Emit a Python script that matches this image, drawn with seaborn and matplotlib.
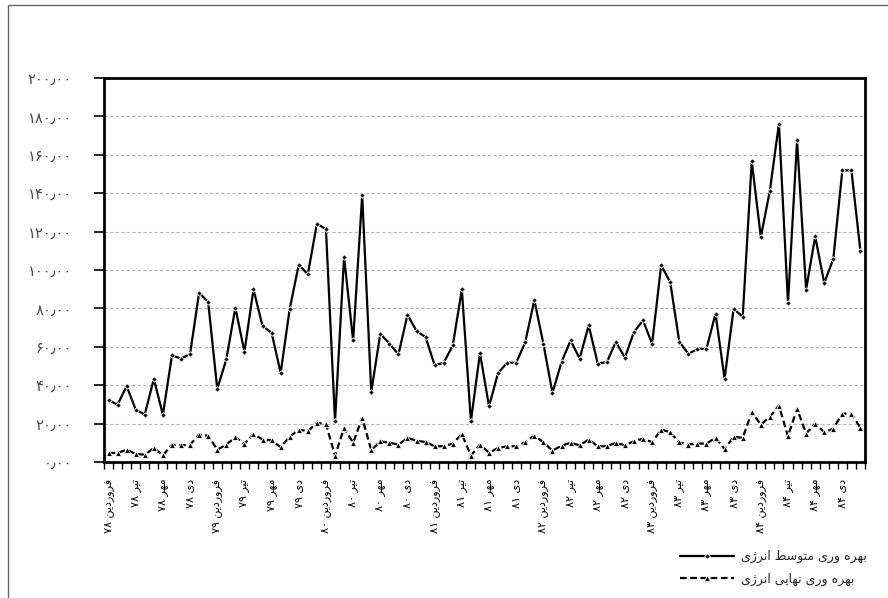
import numpy as np
import pandas as pd
import matplotlib
matplotlib.use("Agg")
import matplotlib.pyplot as plt
from matplotlib import font_manager
from matplotlib.ft2font import FT2Font
from matplotlib.patches import Rectangle
import seaborn as sns

# monthly series, farvardin 78 .. esfand 84
avg_productivity = [
    32.2, 29.9, 39.5, 27.3, 24.7, 43.3, 24.6, 55.5, 53.9, 56.2, 88.2, 83.3,
    38.1, 53.4, 80.4, 57.4, 89.9, 70.8, 67.3, 46.4, 79.8, 102.8, 97.7, 124.2,
    121.2, 21.2, 106.8, 63.3, 139.0, 36.5, 66.8, 61.7, 56.0, 76.7, 68.2, 65.0,
    50.4, 51.7, 60.7, 89.9, 21.2, 56.7, 29.0, 46.4, 51.7, 51.7, 62.4, 84.4,
    61.6, 36.0, 52.0, 63.3, 53.9, 71.1, 51.3, 52.0, 62.6, 54.3, 67.8, 73.7,
    61.6, 102.4, 93.7, 62.7, 56.3, 58.9, 58.9, 77.3, 43.3, 79.9, 75.6, 156.6,
    117.2, 141.3, 176.2, 82.8, 167.5, 89.8, 117.5, 93.2, 105.7, 151.9, 151.9, 109.7,
]
marginal_productivity = [
    4.7, 4.7, 6.4, 4.2, 3.8, 7.3, 3.5, 9.0, 8.7, 9.0, 14.3, 13.7,
    6.4, 9.0, 13.0, 9.4, 14.6, 11.7, 11.3, 7.7, 13.2, 16.9, 16.0, 20.4,
    19.8, 3.3, 17.7, 10.0, 23.0, 6.1, 10.8, 10.0, 9.1, 12.5, 11.1, 10.4,
    8.2, 8.2, 9.6, 14.6, 3.3, 9.1, 4.9, 7.3, 8.2, 8.2, 10.4, 13.7,
    10.3, 5.9, 8.5, 10.0, 8.7, 11.7, 8.2, 8.2, 10.0, 8.7, 10.8, 12.2,
    10.3, 16.9, 15.5, 10.2, 9.1, 9.6, 9.6, 12.6, 6.8, 13.1, 12.6, 25.9,
    19.5, 23.5, 29.4, 13.4, 27.8, 14.8, 20.0, 15.5, 17.4, 25.2, 25.2, 17.8,
]
years = [78, 79, 80, 81, 82, 83, 84]
season_months = ["فروردین", "تیر", "مهر", "دی"]
y_ticks = [0, 20, 40, 60, 80, 100, 120, 140, 160, 180, 200]
legend_labels = ["بهره وری متوسط انرژی", "بهره وری نهایی انرژی"]

# --- minimal persian shaping (matplotlib has no bidi / joining) ---
_font = FT2Font(font_manager.findfont("DejaVu Sans"))


def has_glyph(c):
    return _font.get_char_index(ord(c)) != 0


FORMS = {  # isolated, final, initial, medial
    "\u0627": ("\uFE8D", "\uFE8E", None, None),
    "\u0628": ("\uFE8F", "\uFE90", "\uFE91", "\uFE92"),
    "\u062A": ("\uFE95", "\uFE96", "\uFE97", "\uFE98"),
    "\u062F": ("\uFEA9", "\uFEAA", None, None),
    "\u0631": ("\uFEAD", "\uFEAE", None, None),
    "\u0698": ("\uFB8A", "\uFB8B", None, None),
    "\u0633": ("\uFEB1", "\uFEB2", "\uFEB3", "\uFEB4"),
    "\u0637": ("\uFEC1", "\uFEC2", "\uFEC3", "\uFEC4"),
    "\u0641": ("\uFED1", "\uFED2", "\uFED3", "\uFED4"),
    "\u0645": ("\uFEE1", "\uFEE2", "\uFEE3", "\uFEE4"),
    "\u0646": ("\uFEE5", "\uFEE6", "\uFEE7", "\uFEE8"),
    "\u0647": ("\uFEE9", "\uFEEA", "\uFEEB", "\uFEEC"),
    "\u0648": ("\uFEED", "\uFEEE", None, None),
    "\u06CC": ("\uFBFC", "\uFBFD", "\uFBFE", "\uFBFF"),
}
YEH_FALLBACK = ("\uFEEF", "\uFEF0", "\uFEF3", "\uFEF4")


def shape(word):
    out = []
    for i, c in enumerate(word):
        if c not in FORMS:
            out.append(c)
            continue
        prev = word[i - 1] if i > 0 else ""
        nxt = word[i + 1] if i + 1 < len(word) else ""
        joins_prev = prev in FORMS and FORMS[prev][2] is not None
        joins_next = FORMS[c][2] is not None and nxt in FORMS
        if joins_prev and joins_next:
            k = 3
        elif joins_prev:
            k = 1
        elif joins_next:
            k = 2
        else:
            k = 0
        g = FORMS[c][k]
        if not has_glyph(g) and c == "\u06CC":
            g = YEH_FALLBACK[k]
        if not has_glyph(g):
            g = c
        out.append(g)
    return "".join(out)


def rtl(text):
    return shape(text)[::-1]


ZERO = 0x06F0 if has_glyph("\u06F0") else 0x0660
SEP = "\u066B" if has_glyph("\u066B") else "."


def fa_num(s):
    return "".join(chr(ZERO + int(ch)) if ch.isdigit() else (SEP if ch == "." else ch) for ch in str(s))


# --- data frame ---
n = len(avg_productivity)
df = pd.DataFrame({
    "t": np.arange(n),
    "avg": avg_productivity,
    "marg": marginal_productivity,
})
tick_labels = [f"{fa_num(y)} {rtl(m)}" for y in years for m in season_months]

sns.set_theme(style="white")
plt.rcParams["font.family"] = ["DejaVu Sans"]

fig = plt.figure(figsize=(8.88, 5.98), dpi=100)
ax = fig.add_axes([104 / 888, 1 - 462 / 598, 761 / 888, 384 / 598])

sns.lineplot(data=df, x="t", y="avg", ax=ax, color="black", lw=1.6,
             marker="D", markersize=2.8, markeredgewidth=0.6,
             label=rtl(legend_labels[0]))
sns.lineplot(data=df, x="t", y="marg", ax=ax, color="black", lw=1.6,
             marker="^", markersize=4, markeredgewidth=0.6,
             dashes=(3, 1.6), label=rtl(legend_labels[1]))

ax.set_xlim(-0.5, n - 0.5)
ax.set_ylim(0, 200)
ax.set_xlabel("")
ax.set_ylabel("")

ax.set_yticks(y_ticks)
ax.set_yticklabels([fa_num(f"{v:.2f}") for v in y_ticks], fontsize=10.5, color="#4a4a4a")
ax.tick_params(axis="y", length=7, width=1.2, color="black", pad=16, left=True)

ax.set_xticks(np.arange(0, n, 3))
ax.set_xticklabels(tick_labels, rotation=90, fontsize=8, color="black")
ax.set_xticks(np.arange(-0.5, n, 1), minor=True)
ax.tick_params(axis="x", which="major", length=0, pad=12)
ax.tick_params(axis="x", which="minor", length=5, width=1, color="black", bottom=True)

for v in y_ticks[1:-1]:
    ax.axhline(v, color="#b5b5b5", lw=0.8, dashes=(3, 2), zorder=0)

for sp in ax.spines.values():
    sp.set_color("black")
    sp.set_linewidth(2)

leg = ax.legend(loc="upper right", bbox_to_anchor=(867 / 888, 1 - 550 / 598),
                bbox_transform=fig.transFigure, frameon=False, fontsize=9,
                handlelength=4.3, handletextpad=0.6, labelspacing=0.75,
                borderpad=0, borderaxespad=0)

# thin frame around the picture
fig.patches.append(Rectangle((8 / 888, -0.1), 1.2, 1 - 5 / 598 + 0.1,
                             transform=fig.transFigure, fill=False,
                             edgecolor="#666666", lw=1))

fig.savefig("out.png", dpi=100)
